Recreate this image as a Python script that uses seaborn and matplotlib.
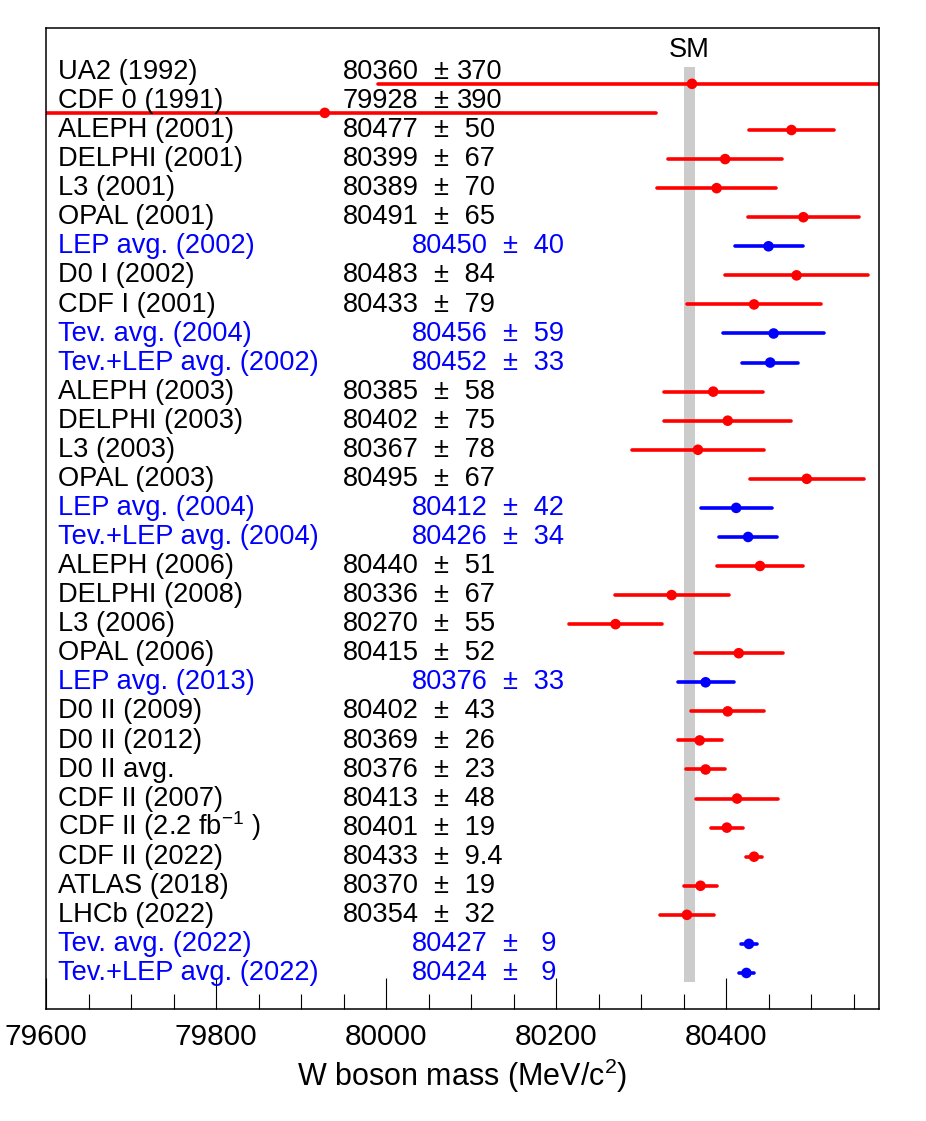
import numpy as np
import pandas as pd
import matplotlib
matplotlib.use("Agg")
import matplotlib.pyplot as plt
import matplotlib.transforms as mtransforms
from matplotlib.ticker import MultipleLocator
import seaborn as sns

# ---------------- data ----------------
names = [
    "UA2 (1992)", "CDF 0 (1991)", "ALEPH (2001)", "DELPHI (2001)", "L3 (2001)",
    "OPAL (2001)", "LEP avg. (2002)", "D0 I (2002)", "CDF I (2001)",
    "Tev. avg. (2004)", "Tev.+LEP avg. (2002)", "ALEPH (2003)", "DELPHI (2003)",
    "L3 (2003)", "OPAL (2003)", "LEP avg. (2004)", "Tev.+LEP avg. (2004)",
    "ALEPH (2006)", "DELPHI (2008)", "L3 (2006)", "OPAL (2006)",
    "LEP avg. (2013)", "D0 II (2009)", "D0 II (2012)", "D0 II avg.",
    "CDF II (2007)", "CDF II (2.2 fb$^{-1}$ )", "CDF II (2022)", "ATLAS (2018)",
    "LHCb (2022)", "Tev. avg. (2022)", "Tev.+LEP avg. (2022)",
]
masses = [
    80360, 79928, 80477, 80399, 80389, 80491, 80450, 80483, 80433, 80456,
    80452, 80385, 80402, 80367, 80495, 80412, 80426, 80440, 80336, 80270,
    80415, 80376, 80402, 80369, 80376, 80413, 80401, 80433, 80370, 80354,
    80427, 80424,
]
errors = [
    370, 390, 50, 67, 70, 65, 40, 84, 79, 59,
    33, 58, 75, 78, 67, 42, 34, 51, 67, 55,
    52, 33, 43, 26, 23, 48, 19, 9.4, 19, 32,
    9, 9,
]
kinds = [
    "meas", "meas", "meas", "meas", "meas", "meas", "avg", "meas", "meas", "avg",
    "avg", "meas", "meas", "meas", "meas", "avg", "avg", "meas", "meas", "meas",
    "meas", "avg", "meas", "meas", "meas", "meas", "meas", "meas", "meas", "meas",
    "avg", "avg",
]
sm_mass = 80357
sm_err = 6

# ---------------- style ----------------
sns.set_style("white")
plt.rcParams["font.family"] = ["Liberation Sans", "DejaVu Sans"]
plt.rcParams["mathtext.fontset"] = "custom"
plt.rcParams["mathtext.rm"] = "Liberation Sans"
plt.rcParams["mathtext.it"] = "Liberation Sans:italic"
plt.rcParams["mathtext.bf"] = "Liberation Sans:bold"
plt.rcParams["text.color"] = "black"
plt.rcParams["axes.labelcolor"] = "black"
plt.rcParams["xtick.color"] = "black"
plt.rcParams["axes.edgecolor"] = "black"

mark_colors = {"meas": "#ff0000", "avg": "#0000ff"}
text_colors = {"meas": "#000000", "avg": "#0000ff"}

df = pd.DataFrame({"name": names, "mass": masses, "err": errors, "kind": kinds})
df["row"] = np.arange(len(df))
# the two oldest hadron-collider results are drawn slightly below their labels
df["ymark"] = df["row"] + np.where(df["row"] < 2, 0.41, 0.0)

fig = plt.figure(figsize=(9.26, 11.21), dpi=100)
ax = fig.add_axes([46 / 926, 1 - 1009 / 1121, 833 / 926, 981 / 1121])

fs = 19.6

# SM band
ax.fill_betweenx([-0.17, 31.31], sm_mass - sm_err, sm_mass + sm_err,
                 color="#cccccc", lw=0, zorder=1)
ax.text(sm_mass, -0.51, "SM", ha="center", va="baseline", fontsize=fs)

# error bars
lc = ax.hlines(df["ymark"], df["mass"] - df["err"], df["mass"] + df["err"],
               colors=df["kind"].map(mark_colors), lw=2.6, zorder=2)
lc.set_capstyle("round")

# points
sns.scatterplot(data=df, x="mass", y="ymark", hue="kind", palette=mark_colors,
                s=58, edgecolor="none", legend=False, ax=ax, zorder=3)

ax.set_xlim(79600, 80580)
ax.set_ylim(32.24, -1.51)

# text columns
trans = mtransforms.blended_transform_factory(ax.transAxes, ax.transData)
for _, r in df.iterrows():
    c = text_colors[r["kind"]]
    shift = 0.0828 if r["kind"] == "avg" else 0.0
    yb = r["row"] + 0.245
    ax.text(0.0144, yb, r["name"], transform=trans, ha="left", va="baseline",
            fontsize=fs, color=c)
    ax.text(0.3565 + shift, yb, f"{r['mass']}", transform=trans, ha="left",
            va="baseline", fontsize=fs, color=c)
    ax.text(0.4646 + shift, yb, "±", transform=trans, ha="left",
            va="baseline", fontsize=fs, color=c)
    e = r["err"]
    es = f"{e:g}"
    if e >= 100:
        pass
    elif e >= 10 or not float(e).is_integer():
        es = " " + es
    else:
        es = "  " + es
    ax.text(0.4934 + shift, yb, es, transform=trans, ha="left",
            va="baseline", fontsize=fs, color=c)

# axes cosmetics
ax.xaxis.set_major_locator(MultipleLocator(200))
ax.xaxis.set_minor_locator(MultipleLocator(50))
ax.set_yticks([])
ax.set_ylabel("")
ax.tick_params(axis="x", which="major", direction="in", length=22, width=0.8,
               labelsize=21.5, pad=10, top=False, bottom=True)
ax.tick_params(axis="x", which="minor", direction="in", length=11, width=0.8,
               top=False, bottom=True)
for sp in ax.spines.values():
    sp.set_linewidth(1.1)
    sp.set_color("black")
ax.set_xlabel("W boson mass (MeV/c$^2$)", fontsize=22, labelpad=4)

fig.savefig("out.png", dpi=100)
